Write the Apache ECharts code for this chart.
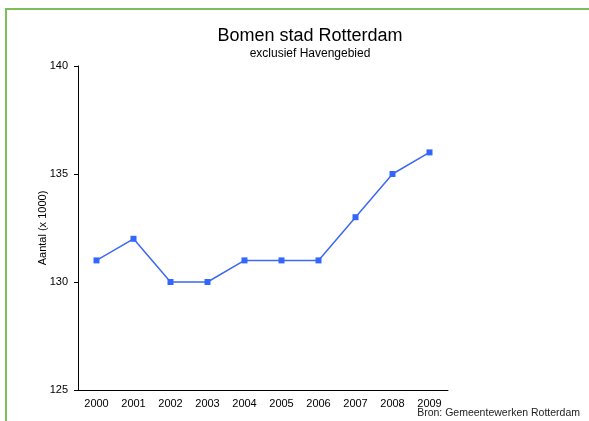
<!DOCTYPE html>
<html>
<head>
<meta charset="utf-8">
<script src="https://cdn.jsdelivr.net/npm/echarts@6/dist/echarts.min.js"></script>
<style>
  html, body { margin: 0; padding: 0; background: #fff; }
  #frame { position: absolute; left: 5px; top: 8px; width: 584px; height: 413px;
           border-left: 2px solid #7cbf5a; border-top: 2px solid #7cbf5a; }
  #chart { position: absolute; left: 0; top: 0; width: 589px; height: 421px; }
</style>
</head>
<body>
<div id="frame"></div>
<div id="chart"></div>
<script>
// jaren en aantallen (x 1000)
const years = ['2000', '2001', '2002', '2003', '2004', '2005', '2006', '2007', '2008', '2009']
const trees = [131, 132, 130, 130, 131, 131, 131, 133, 135, 136]
const yTicks = [125, 130, 135, 140]

const font = '"Liberation Sans", Arial, sans-serif'

const chart = echarts.init(document.getElementById('chart'))
chart.setOption({
  animation: false,
  textStyle: { fontFamily: font },
  title: [{
    text: 'Bomen stad Rotterdam',
    subtext: 'exclusief Havengebied',
    left: 305,
    textAlign: 'center',
    top: 22,
    itemGap: 3,
    textStyle: { fontSize: 18, fontWeight: 'normal', color: '#000', fontFamily: font },
    subtextStyle: { fontSize: 12, color: '#000', fontFamily: font }
  }, {
    text: 'Bron: Gemeentewerken Rotterdam',
    padding: 0,
    right: 9,
    bottom: 2,
    textStyle: { fontSize: 10.5, fontWeight: 'normal', color: '#222', fontFamily: font }
  }],
  grid: {
    left: 78,
    right: 141,
    top: 66,
    bottom: 31
  },
  xAxis: {
    type: 'category',
    data: years,
    boundaryGap: true,
    axisLine: { lineStyle: { color: '#000', width: 1 } },
    axisTick: { length: 4, lineStyle: { color: '#000' } },
    axisLabel: { color: '#000', fontSize: 11, margin: 8 }
  },
  yAxis: {
    type: 'value',
    min: yTicks[0],
    max: yTicks[yTicks.length - 1],
    interval: 5,
    name: 'Aantal (x 1000)',
    nameLocation: 'middle',
    nameRotate: 90,
    nameGap: 30,
    nameMoveOverlap: false,
    nameTextStyle: { color: '#000', fontSize: 11 },
    axisLine: { show: true, lineStyle: { color: '#000', width: 1 } },
    axisTick: { show: true, length: 4, lineStyle: { color: '#000' } },
    axisLabel: { color: '#000', fontSize: 11, margin: 10 },
    splitLine: { show: false }
  },
  series: [{
    name: 'Bomen',
    type: 'line',
    data: trees,
    symbol: 'rect',
    symbolSize: 6,
    lineStyle: { color: '#3d68f2', width: 1.5 },
    itemStyle: { color: '#3366ff' }
  }]
})
</script>
</body>
</html>
